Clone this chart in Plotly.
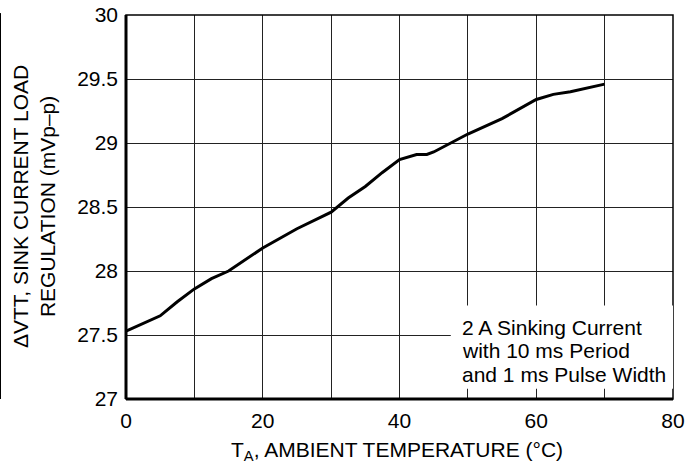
import plotly.graph_objects as go

# Data
temp_c = [0, 5, 7.5, 10, 12.5, 15, 20, 25, 30, 32.5, 35, 37.5, 40, 42.5, 44, 45, 50, 55, 60, 62.5, 65, 70]
vtt_mv = [27.53, 27.65, 27.76, 27.86, 27.94, 28.0, 28.18, 28.33, 28.46, 28.57, 28.66, 28.77, 28.87,
          28.91, 28.91, 28.93, 29.07, 29.19, 29.34, 29.38, 29.40, 29.46]

x_ticks = [0, 20, 40, 60, 80]
y_ticks = [27, 27.5, 28, 28.5, 29, 29.5, 30]
y_tick_text = ["27", "27.5", "28", "28.5", "29", "29.5", "30"]
note_lines = ["2 A Sinking Current", "with 10 ms Period", "and 1 ms Pulse Width"]

FONT = "Liberation Sans, Arial, Helvetica, sans-serif"
FS = 21

fig = go.Figure()
fig.add_trace(go.Scatter(x=temp_c, y=vtt_mv, mode="lines",
                         line=dict(color="black", width=3), showlegend=False,
                         hoverinfo="skip"))

fig.update_layout(
    width=685, height=463,
    margin=dict(l=126, r=12, t=15, b=64, autoexpand=False),
    paper_bgcolor="white", plot_bgcolor="white",
    font=dict(family=FONT, size=FS, color="black"),
    xaxis=dict(range=[0, 80], tickvals=x_ticks, ticktext=[str(v) for v in x_ticks],
               showgrid=True, gridcolor="#222", gridwidth=1, automargin=False,
               minor=dict(dtick=10, showgrid=True, gridcolor="#222", gridwidth=1),
               zeroline=False, showline=False, ticks="", ticklabelstandoff=7,
               tickfont=dict(size=FS)),
    yaxis=dict(range=[27, 30], tickvals=y_ticks, ticktext=y_tick_text,
               showgrid=True, gridcolor="#222", gridwidth=1, automargin=False,
               zeroline=False, showline=False, ticks="", ticklabelstandoff=7,
               tickfont=dict(size=FS)),
)

shapes = []
# plot frame (thin top/right)
shapes.append(dict(type="rect", xref="paper", yref="paper", x0=0, x1=1, y0=0, y1=1,
                   line=dict(color="black", width=1.5), layer="above"))
# white box behind note
shapes.append(dict(type="rect", xref="x", yref="y", x0=47.5, x1=80.3, y0=27.08, y1=27.73,
                   fillcolor="white", line=dict(width=0), layer="above"))
# thick left/bottom axes
shapes.append(dict(type="line", xref="paper", yref="paper", x0=0, x1=0, y0=0, y1=1,
                   line=dict(color="black", width=3), layer="above"))
shapes.append(dict(type="line", xref="paper", yref="paper", x0=0, x1=1, y0=0, y1=0,
                   line=dict(color="black", width=3), layer="above"))
# faint crop line at far left edge
shapes.append(dict(type="line", xref="paper", yref="paper", x0=-125.5 / 547, x1=-125.5 / 547,
                   y0=0, y1=1.005, line=dict(color="black", width=1), layer="above"))
fig.update_layout(shapes=shapes)

annotations = []
# note text lines
for i, line in enumerate(note_lines):
    annotations.append(dict(text=line, xref="x", yref="y", x=48.8, y=27.56 - i * 0.184,
                            xanchor="left", yanchor="middle", showarrow=False,
                            font=dict(size=FS, family=FONT)))
# x title
annotations.append(dict(text="T<sub>A</sub>, AMBIENT TEMPERATURE (°C)", xref="x", yref="paper",
                        x=39.7, y=0, yanchor="middle", xanchor="center", yshift=-52,
                        showarrow=False, font=dict(size=FS, family=FONT)))
# y title
annotations.append(dict(text="ΔVTT, SINK CURRENT LOAD<br>REGULATION (mVp–p)", xref="paper", yref="paper",
                        x=-92 / 547, y=0.5, xanchor="center", yanchor="middle", textangle=-90,
                        showarrow=False, font=dict(size=FS, family=FONT)))
fig.update_layout(annotations=annotations)

fig.write_html("out.html", config={"displayModeBar": False, "staticPlot": True},
               post_script="document.body.style.margin='0px';document.body.style.overflow='hidden';")
